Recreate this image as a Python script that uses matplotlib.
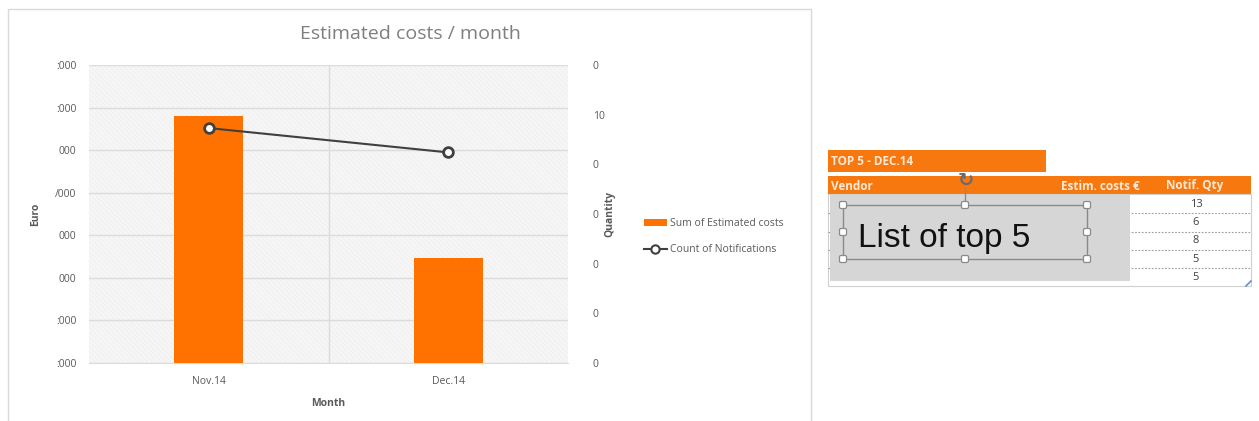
import matplotlib
matplotlib.use("Agg")
import matplotlib.pyplot as plt
from matplotlib.patches import Rectangle, Patch, FancyBboxPatch
from matplotlib.lines import Line2D

# ---------------- data ----------------
months = ["Nov.14", "Dec.14"]
estimated_costs = [58000, 24700]          # Euro (left axis)
notifications = [47.3, 42.4]              # Quantity (right axis)
euro_ticks = [0, 10000, 20000, 30000, 40000, 50000, 60000, 70000]
euro_ticklabels = [":000", ":000", "000", "000", "/000", "000", ":000", ":000"]
qty_ticks = [0, 10, 20, 30, 40, 50, 60]
qty_ticklabels = ["0", "0", "0", "0", "0", "10", "0"]

table_title = "TOP 5 - DEC.14"
table_headers = ["Vendor", "Estim. costs \u20ac", "Notif. Qty"]
top5_qty = [13, 6, 8, 5, 5]
overlay_text = "List of top 5"

# ---------------- figure ----------------
W, H = 1259, 421
fig = plt.figure(figsize=(W / 100, H / 100), dpi=100)
FONT = ["Open Sans", "DejaVu Sans"]
plt.rcParams["font.family"] = FONT
plt.rcParams["hatch.linewidth"] = 0.4

ORANGE = "#FF7200"
TXT = "#595959"
GRID = "#dcdcdc"

def px_axes(x0, y0, x1, y1):
    return fig.add_axes([x0 / W, 1 - y1 / H, (x1 - x0) / W, (y1 - y0) / H])

# overlay axes in pixel coords
ov = fig.add_axes([0, 0, 1, 1], zorder=-5)
ov.set_xlim(0, W)
ov.set_ylim(H, 0)
ov.axis("off")

# chart border
ov.add_patch(Rectangle((8, 9), 803, 430, fill=False, ec="#d9d9d9", lw=1))

# ---------------- chart ----------------
ax = px_axes(89, 65, 568, 363)
ax.set_facecolor("#f6f6f6")
ax.add_patch(Rectangle((0, 0), 1, 1, transform=ax.transAxes, fill=False,
                       hatch="\\\\\\\\\\\\\\", ec="#ebebeb", lw=0, zorder=0))

x = list(range(len(months)))
ax.bar(x, estimated_costs, width=0.29, color=ORANGE, zorder=3)
ax.set_xlim(-0.5, 1.5)
ax.set_ylim(0, 70000)
ax.set_yticks(euro_ticks)
ax.set_yticklabels(euro_ticklabels)
ax.set_xticks(x)
ax.set_xticklabels(months)
ax.set_xticks([0.5], minor=True)
ax.grid(axis="y", color=GRID, lw=1, zorder=1)
ax.grid(axis="x", which="minor", color=GRID, lw=1, zorder=1)
ax.grid(axis="x", which="major", visible=False)
ax.tick_params(axis="both", which="both", length=0, colors=TXT, labelsize=7.5)
ax.tick_params(axis="y", pad=9)
ax.tick_params(axis="x", pad=9)
for s in ax.spines.values():
    s.set_visible(False)
ax.spines["bottom"].set_visible(True)
ax.spines["bottom"].set_color(GRID)
ax.set_axisbelow(True)
ax.set_xlabel("Month", color=TXT, fontsize=7.5, fontweight="bold", labelpad=8)
ax.set_ylabel("Euro", color=TXT, fontsize=7.5, fontweight="bold", labelpad=10)

ax2 = ax.twinx()
ax2.plot(x, notifications, color="#404040", lw=1.5, marker="o", ms=7,
         mfc="white", mec="#404040", mew=2, zorder=5)
ax2.set_ylim(0, 60)
ax2.set_yticks(qty_ticks)
ax2.set_yticklabels(qty_ticklabels)
ax2.tick_params(axis="y", length=0, colors=TXT, labelsize=7.5, pad=18)
for s in ax2.spines.values():
    s.set_visible(False)
ax2.set_ylabel("Quantity", color=TXT, fontsize=7.5, fontweight="bold",
               rotation=90, labelpad=0)

fig.text(410 / W, 1 - 34 / H, "Estimated costs / month", ha="center",
         va="center", fontsize=14, color="#7f7f7f")

handles = [Patch(facecolor=ORANGE, edgecolor="none"),
           Line2D([0], [0], color="#404040", lw=1.5, marker="o", ms=6,
                  mfc="white", mec="#404040", mew=1.5)]
fig.legend(handles, ["Sum of Estimated costs", "Count of Notifications"],
           loc="upper left", bbox_to_anchor=(644 / W, 1 - 218 / H),
           frameon=False, fontsize=7.5, labelcolor=TXT, handlelength=2.2,
           handleheight=0.6, handletextpad=0.3, labelspacing=1.45,
           borderaxespad=0, borderpad=0)

# ---------------- top 5 table ----------------
HDR = "#F7780F"
HTXT = "#fde9d6"
ov.add_patch(Rectangle((828, 150), 218, 22, color=HDR, lw=0))
ov.text(831, 161.5, table_title, color=HTXT, fontsize=8.5,
        fontweight="bold", va="center", ha="left")
ov.add_patch(Rectangle((828, 176), 423, 18, color=HDR, lw=0))
ov.text(831, 186, table_headers[0], color=HTXT, fontsize=8.5,
        fontweight="bold", va="center", ha="left")
ov.text(1140, 186, table_headers[1], color=HTXT, fontsize=8.5,
        fontweight="bold", va="center", ha="right")
ov.text(1195, 186, table_headers[2], color=HTXT, fontsize=8.5,
        fontweight="bold", va="center", ha="center")
# table border
ov.add_patch(Rectangle((828, 194), 423, 92, fill=False, ec="#d0d0d0", lw=0.8))

row_y0, row_h = 195, 18.3
for i, q in enumerate(top5_qty):
    yc = row_y0 + row_h * (i + 0.5)
    ov.text(1196, yc, str(q), color="#404040", fontsize=8,
            ha="center", va="center")
    if i < len(top5_qty) - 1:
        yl = row_y0 + row_h * (i + 1)
        ov.plot([828, 1251], [yl, yl], color="#9a9a9a", lw=0.8,
                ls=(0, (1.5, 1.5)))
ov.plot([1246, 1251], [286, 281], color="#6a8ec0", lw=1.2)

# gray overlay box
ov.add_patch(Rectangle((830, 195), 300, 86, color="#d6d6d6", lw=0, zorder=3))
# text box with selection handles
ov.add_patch(Rectangle((843, 205), 244, 54, fill=False, ec="#8a8a8a",
                       lw=1, zorder=4))
ov.text(858, 247, overlay_text, fontsize=24, color="#111111",
        family=["Liberation Sans", "DejaVu Sans"], va="baseline",
        ha="left", zorder=5)
for hx, hy in [(843, 205), (965, 205), (1087, 205), (843, 232),
               (1087, 232), (843, 259), (965, 259), (1087, 259)]:
    ov.add_patch(FancyBboxPatch((hx - 3.5, hy - 3.5), 7, 7,
                                boxstyle="round,pad=0,rounding_size=1.5",
                                fc="white", ec="#8a8a8a", lw=0.9, zorder=6))
ov.plot([965, 965], [188, 201], color="#8a8a8a", lw=1, zorder=4)
ov.text(965.5, 180, "\u21bb", fontsize=14, color="#6a6a6a",
        family=["DejaVu Sans"], ha="center", va="center", zorder=7,
        fontweight="bold")

fig.savefig("out.png", dpi=100)
